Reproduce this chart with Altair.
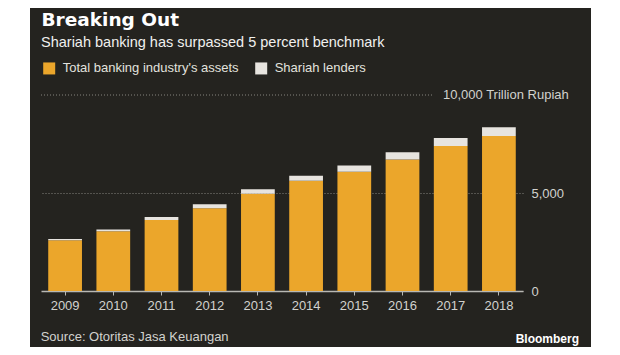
import altair as alt
import pandas as pd

# ---- data ----
years = ["2009", "2010", "2011", "2012", "2013", "2014", "2015", "2016", "2017", "2018"]
total_assets = [2590, 3050, 3628, 4226, 4957, 5621, 6081, 6714, 7394, 7905]
shariah = [60, 90, 150, 200, 240, 265, 320, 370, 410, 450]
series_names = ["Total banking industry's assets", "Shariah lenders"]
series_colors = ["#eba62b", "#e7e4df"]
y_tick_values = [0, 5000]
top_value = [10000]
top_label = "10,000 Trillion Rupiah"

title_text = "Breaking Out"
subtitle_text = "Shariah banking has surpassed 5 percent benchmark"
source_text = "Source: Otoritas Jasa Keuangan"
brand_text = "Bloomberg"

rows = []
for i, y in enumerate(years):
    rows.append({"year": y, "series": series_names[0], "value": total_assets[i], "ord": 0})
    rows.append({"year": y, "series": series_names[1], "value": shariah[i], "ord": 1})
df = pd.DataFrame(rows)

BG = "#24231f"
FONT = "Liberation Sans"
W, H = 482, 196

bars = alt.Chart(df).mark_bar().encode(
    x=alt.X(
        "year:N",
        sort=years,
        scale=alt.Scale(paddingInner=0.3, paddingOuter=0.15),
        axis=alt.Axis(
            title=None, labelAngle=0, labelFont=FONT, labelFontSize=13,
            labelColor="#d2d2ce", domainColor="#b8b8b3", domainWidth=1.5,
            tickColor="#b8b8b3", tickSize=4, labelPadding=4, grid=False,
        ),
    ),
    y=alt.Y(
        "value:Q",
        stack="zero",
        scale=alt.Scale(domain=[0, 10000], nice=False),
        axis=alt.Axis(
            title=None, orient="right", values=y_tick_values,
            labelExpr="format(datum.value, ',')",
            labelFont=FONT, labelFontSize=13, labelColor="#d2d2ce",
            labelPadding=8, ticks=False, domain=False,
            grid=True, gridColor="#85857f", gridDash=[1, 2], gridWidth=1,
        ),
    ),
    color=alt.Color(
        "series:N",
        scale=alt.Scale(domain=series_names, range=series_colors),
        legend=alt.Legend(
            title=None, orient="none", legendX=1.7, legendY=-33.3,
            direction="horizontal", symbolType="square", symbolSize=144,
            symbolStrokeWidth=0, labelFont=FONT, labelFontSize=13,
            labelColor="#e2e2de", labelOffset=7, columnPadding=16, padding=0,
            labelLimit=400,
        ),
    ),
    order=alt.Order("ord:Q"),
)

top_rule = alt.Chart(pd.DataFrame({"value": top_value})).mark_rule(
    color="#85857f", strokeDash=[1, 2], strokeWidth=1
).encode(y="value:Q", x=alt.value(0), x2=alt.value(391))

top_text = alt.Chart(pd.DataFrame({"value": top_value})).mark_text(
    text=top_label, font=FONT, fontSize=13, color="#d2d2ce", align="left", baseline="middle"
).encode(y="value:Q", x=alt.value(402))

one = alt.Data(values=[{"a": 1}])

left_strip = alt.Chart(one).mark_rect(color="#ffffff").encode(
    x=alt.value(-33), x2=alt.value(-11), y=alt.value(-87), y2=alt.value(252)
)

title = alt.Chart(one).mark_text(
    text=title_text, font="DejaVu Sans", fontWeight="bold", fontSize=18.5,
    color="#ffffff", align="left", baseline="alphabetic"
).encode(x=alt.value(0.5), y=alt.value(-69))

subtitle = alt.Chart(one).mark_text(
    text=subtitle_text, font=FONT, fontSize=14.5,
    color="#f0f0ee", align="left", baseline="alphabetic"
).encode(x=alt.value(0), y=alt.value(-48.5))

source = alt.Chart(one).mark_text(
    text=source_text, font=FONT, fontSize=13,
    color="#d2d2ce", align="left", baseline="alphabetic"
).encode(x=alt.value(-0.3), y=alt.value(245.7))

brand = alt.Chart(one).mark_text(
    text=brand_text, font=FONT, fontWeight="bold", fontSize=12,
    color="#ffffff", align="right", baseline="alphabetic"
).encode(x=alt.value(538), y=alt.value(248))

chart = alt.layer(
    left_strip, top_rule, bars, top_text, title, subtitle, source, brand
).properties(
    width=W, height=H, background=BG,
    padding={"left": 33, "top": 87, "right": 68, "bottom": 56},
    autosize=alt.AutoSizeParams(type="none"),
).configure_view(stroke=None)

chart.save("out.html", embed_options={"renderer": "svg", "actions": False})
